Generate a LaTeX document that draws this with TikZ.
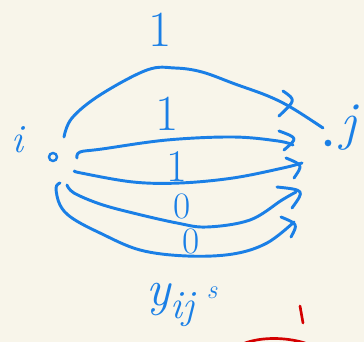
\documentclass[tikz,border=0pt]{standalone}
\usepackage{fontspec}
\usepackage{tikz}
\definecolor{bg}{HTML}{F8F5EA}
\definecolor{pen}{HTML}{1A7FE6}
\definecolor{redpen}{HTML}{D40000}
\begin{document}
\begin{tikzpicture}[x=0.75pt,y=-0.75pt,
  edge/.style={pen,line width=2.2pt,line cap=round,line join=round},
  tip/.style={pen,line width=2.2pt,line cap=round,line join=round},
  lbl/.style={text=pen,inner sep=0pt}]
\fill[bg] (0,0) rectangle (364,342);
\useasboundingbox (0,0) rectangle (364,342);
% nodes i and j
\node[circle,draw=pen,line width=1.8pt,minimum size=6pt,inner sep=0pt] (i) at (53,157) {};
\node[circle,fill=pen,minimum size=5pt,inner sep=0pt] (j) at (328,143) {};
\node[lbl,font=\fontsize{30}{30}\selectfont\itshape] (li) at (18,140) {i};
\node[lbl,font=\fontsize{40}{40}\selectfont\itshape] (lj) at (348,128) {j};
% edge endpoints
\coordinate (s1) at (64,137); \coordinate (e1) at (323,128);
\coordinate (s2) at (77,158); \coordinate (e2) at (293,145);
\coordinate (s3) at (75,171); \coordinate (e3) at (302,163);
\coordinate (s4) at (67,185); \coordinate (e4) at (296,192);
\coordinate (s5) at (60,183); \coordinate (e5) at (294,222);
% arcs
\draw[edge] plot[smooth,tension=0.6] coordinates {(s1) (72,118) (100,95) (147,70) (175,68) (202,72) (235,84) (268,96) (292,108) (e1)};
\draw[edge] plot[smooth,tension=0.6] coordinates {(s2) (80,152) (102,149) (167,140) (233,137) (278,141) (e2)};
\draw[edge] plot[smooth,tension=0.6] coordinates {(s3) (81,173) (133,182) (180,183) (233,178) (283,168) (e3)};
\draw[edge] plot[smooth,tension=0.6] coordinates {(s4) (74,193) (100,204) (133,213) (177,223) (207,227) (250,220) (282,200) (e4)};
\draw[edge] plot[smooth,tension=0.6] coordinates {(s5) (56,188) (60,205) (72,218) (100,233) (140,250) (187,256) (233,254) (267,243) (e5)};
% arrow heads
\draw[tip] (283,91) .. controls (296,100) .. (279,116);
\draw[tip] (279,131) .. controls (298,138) .. (284,150);
\draw[tip] (286,158) .. controls (303,165) .. (294,178);
\draw[tip] (277,187) .. controls (305,190) .. (292,208);
\draw[tip] (281,217) .. controls (298,224) .. (291,237);
% labels
\node[lbl,font=\fontsize{38}{38}\selectfont] (w1) at (160,30) {1};
\node[lbl,font=\fontsize{38}{38}\selectfont] (w2) at (167,114) {1};
\node[lbl,font=\fontsize{34}{34}\selectfont] (w3) at (177,167) {1};
\node[lbl,font=\fontsize{28}{28}\selectfont] (w4) at (182,206) {0};
\node[lbl,font=\fontsize{28}{28}\selectfont] (w5) at (191,241) {0};
\node[lbl,font=\fontsize{38}{38}\selectfont\itshape,anchor=base west] (y) at (146,305) {y\raisebox{-10pt}{\fontsize{30}{30}\selectfont ij}};
\node[lbl,font=\fontsize{20}{20}\selectfont\itshape] (s) at (212,293) {s};
% red partial stroke
\draw[redpen,line width=2pt,line cap=round] (245,343) .. controls (262,337) and (285,337) .. (305,343);
\draw[redpen,line width=2pt,line cap=round] (300,306) -- (303,323);
\end{tikzpicture}
\end{document}
